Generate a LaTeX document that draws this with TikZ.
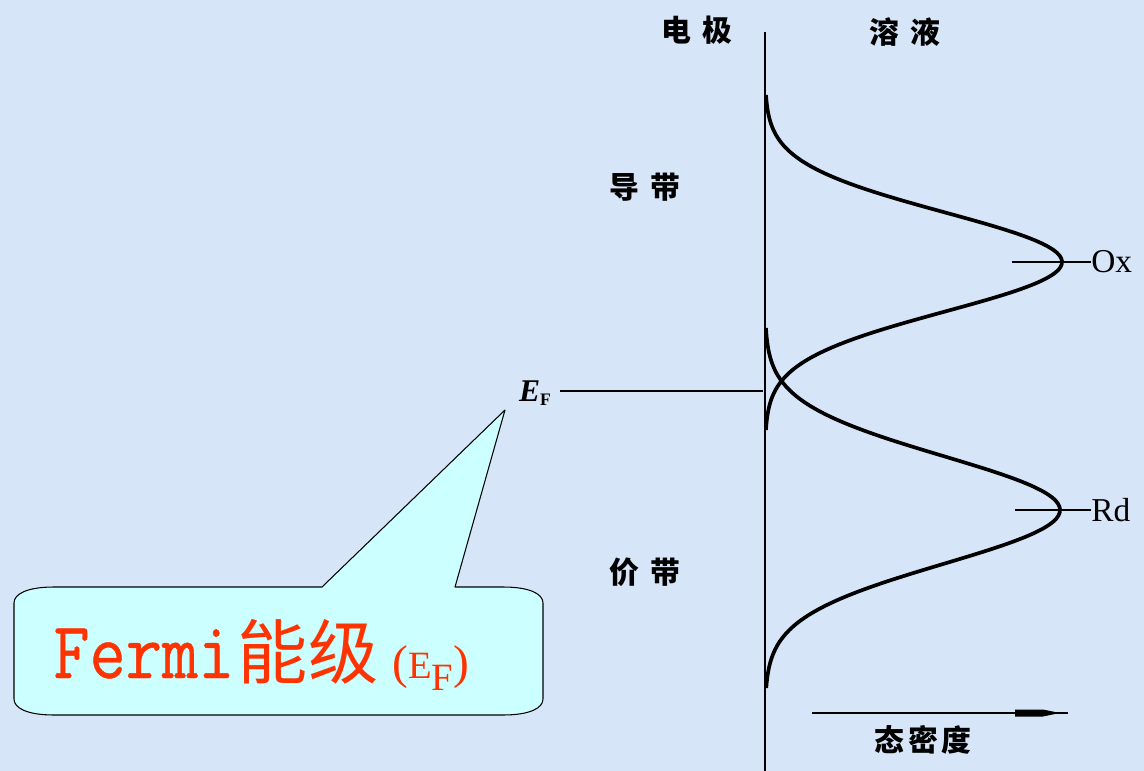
\documentclass[tikz,border=0pt]{standalone}
\usepackage{fontspec}
\usepackage{graphicx}
\newfontfamily\cjk{Noto Sans CJK SC}
\newfontfamily\monof[FakeBold=0.6]{Latin Modern Mono}
\newfontfamily\serif{Liberation Serif}
\definecolor{bg}{RGB}{214,229,247}
\definecolor{callfill}{RGB}{204,255,255}
\definecolor{redtxt}{RGB}{255,51,0}
\tikzset{
  lbl/.style={font=\cjk\bfseries\fontsize{17}{17}\selectfont, inner sep=0pt},
  curve/.style={line width=2.1pt, line join=round},
  thin line/.style={line width=0.8pt},
}
\begin{document}
\begin{tikzpicture}[x=0.02cm,y=-0.02cm]
\fill[bg] (0,0) rectangle (1144,771);
\useasboundingbox (0,0) rectangle (1144,771);
% axis
\coordinate (axtop) at (765,32);
\coordinate (axbot) at (765,771);
\draw[line width=1.3pt] (axtop) -- (axbot);
% labels
\node[lbl] (dianji) at (697,30) {电\kern6pt 极};
\node[lbl] (rongye) at (905,32) {溶\kern6pt 液};
\node[lbl] (daodai) at (645,187) {导\kern6pt 带};
\node[lbl] (jiadai) at (645,572) {价\kern6pt 带};
\node[lbl] (tai) at (923,740) {态\kern2pt 密\kern2pt 度};
% density axis arrow
\coordinate (arrS) at (812,713);
\coordinate (arrE) at (1068,713);
\draw[line width=0.9pt] (arrS) -- (arrE);
\fill (1015,709.5) -- (1043,709.5) -- (1055,712) -- (1055,714) -- (1043,716.5) -- (1015,716.5) -- cycle;
% curves
\draw[curve] plot[variable=\t, domain=95:430, samples=120, smooth]
  ({765+297*exp(-((\t-262)/70)^2)}, \t);
\draw[curve] plot[variable=\t, domain=328:688, samples=120, smooth]
  ({765+295*exp(-((\t-510)/76)^2)}, \t);
% peak ticks and labels
\node[font=\serif\fontsize{19}{19}\selectfont, anchor=west, inner sep=0pt] (ox) at (1091,262) {Ox};
\node[font=\serif\fontsize{19}{19}\selectfont, anchor=west, inner sep=0pt] (rd) at (1091,510) {Rd};
\coordinate (oxs) at (1012,262);
\coordinate (rds) at (1015,510);
\draw[thin line] (oxs) -- (ox.west);
\draw[thin line] (rds) -- (rd.west);
% Fermi level
\node[font=\serif\bfseries\fontsize{18}{18}\selectfont, inner sep=0pt] (ef) at (535,393) {\textit{E}\raisebox{-2pt}{\fontsize{10}{10}\selectfont F}};
\coordinate (efax) at (763,391);
\draw[line width=0.9pt] (560,391) -- (efax);
% callout
\coordinate (tip) at (505,410);
\draw[fill=callfill, line width=0.6pt, line join=round]
  (54,587) -- (322,587) -- (tip) -- (455,587) -- (503,587)
  .. controls (530,587) and (543,594) .. (543,603) -- (543,699)
  .. controls (543,708) and (530,715) .. (503,715) -- (54,715)
  .. controls (27,715) and (14,708) .. (14,699) -- (14,603)
  .. controls (14,594) and (27,587) .. (54,587) -- cycle;
\node[anchor=base west, inner sep=0pt, text=redtxt] (fermi) at (53,678)
  {\fontsize{40}{40}\selectfont\scalebox{1}[1.15]{\monof Fermi}\kern2pt\cjk 能级\kern8pt{\serif\fontsize{27}{27}\selectfont(}{\serif\fontsize{22}{22}\selectfont E\raisebox{-7pt}{F}}{\serif\fontsize{27}{27}\selectfont)}};
\end{tikzpicture}
\end{document}
